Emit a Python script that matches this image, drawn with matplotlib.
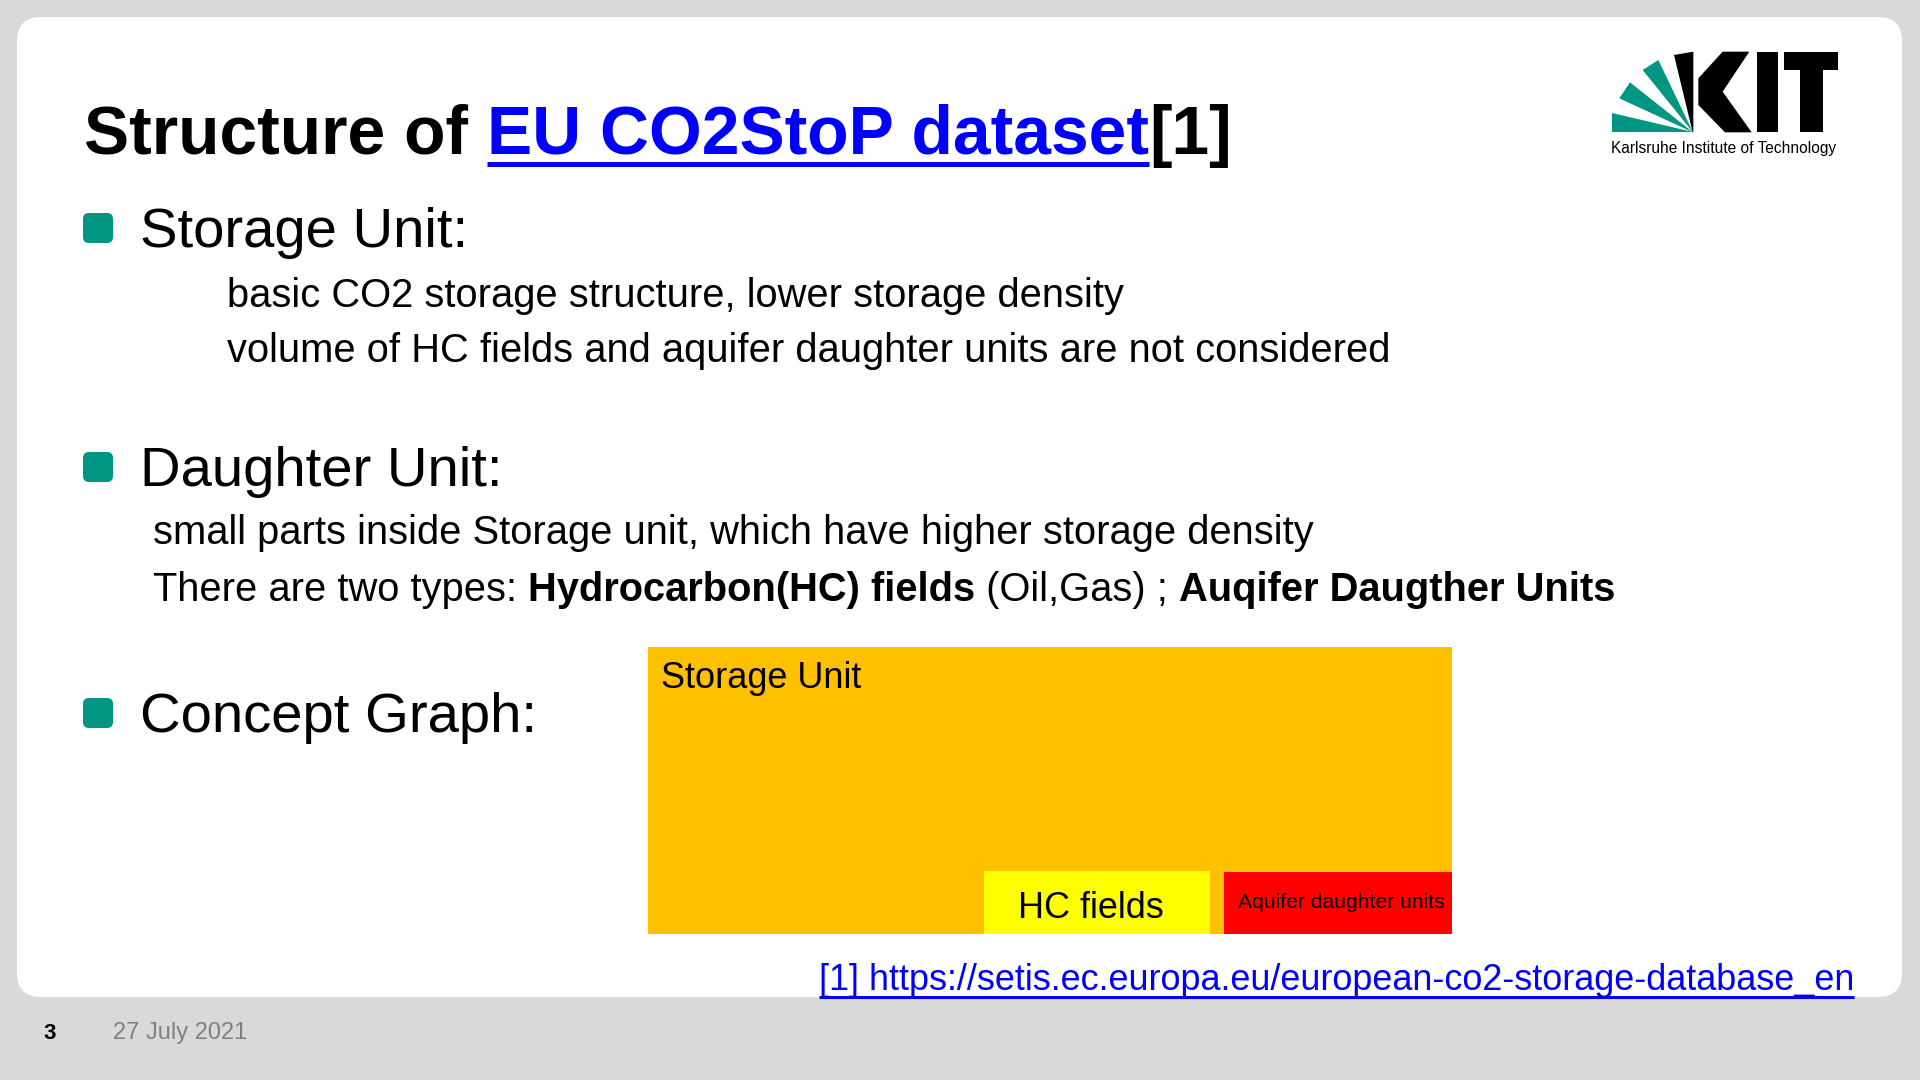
import matplotlib
matplotlib.use("Agg")
import matplotlib.pyplot as plt
from matplotlib.patches import FancyBboxPatch, Rectangle, Polygon

plt.rcParams['font.family'] = ['Liberation Sans', 'DejaVu Sans']

# slide texts
title_parts = [("Structure of ", "black", False), ("EU CO2StoP dataset", "#0000ff", True), ("[1]", "black", False)]
headings = ["Storage Unit:", "Daughter Unit:", "Concept Graph:"]
storage_lines = ["basic CO2 storage structure, lower storage density",
                 "volume of HC fields and aquifer daughter units are not considered"]
daughter_line1 = "small parts inside Storage unit, which have higher storage density"
daughter_line2 = [("There are two types: ", "normal"), ("Hydrocarbon(HC) fields", "bold"),
                  (" (Oil,Gas) ; ", "normal"), ("Auqifer Daugther Units", "bold")]
box_labels = ["Storage Unit", "HC fields", "Aquifer daughter units"]
box_colors = ["#ffc000", "#ffff00", "#ff0000"]
ref_text = "[1] https://setis.ec.europa.eu/european-co2-storage-database_en"
page_no = "3"
date_text = "27 July 2021"
logo_caption = "Karlsruhe Institute of Technology"

KIT_GREEN = "#009682"

fig = plt.figure(figsize=(19.2, 10.8), dpi=100)
fig.patch.set_facecolor("#d9d9d9")
ax = fig.add_axes([0, 0, 1, 1])
ax.set_xlim(0, 1920)
ax.set_ylim(1080, 0)
ax.axis("off")
r = fig.canvas.get_renderer()

# white slide panel
ax.add_patch(FancyBboxPatch((17, 17), 1885, 980, boxstyle="round,pad=0,rounding_size=24",
                            fc="white", ec="none"))


def text_run(x, y, parts, size):
    # place text pieces one after another on the same baseline
    for s, color, weight, under, uy, ulw in parts:
        t = ax.text(x, y, s, fontsize=size, color=color, fontweight=weight, va="baseline", ha="left")
        w = t.get_window_extent(renderer=r).width
        if under:
            ax.plot([x, x + w], [y + uy, y + uy], color=color, lw=ulw, solid_capstyle="butt")
        x += w
    return x


# title
text_run(84, 154, [(s, c, "bold", u, 10, 3.6) for s, c, u in title_parts], 48.8)

# bullets
def bullet(y_base, label):
    ax.add_patch(FancyBboxPatch((83, y_base - 34), 30, 30, boxstyle="round,pad=0,rounding_size=6",
                                fc=KIT_GREEN, ec="none"))
    ax.text(140, y_base, label, fontsize=40.5, va="baseline", ha="left", color="black")


bullet(247, headings[0])
bullet(486, headings[1])
bullet(732, headings[2])

sub = 28.7
ax.text(227, 307, storage_lines[0], fontsize=sub, va="baseline")
ax.text(227, 362, storage_lines[1], fontsize=sub, va="baseline")
ax.text(153, 544, daughter_line1, fontsize=sub, va="baseline")
text_run(153, 601, [(s, "black", w, False, 0, 0) for s, w in daughter_line2], sub)

# concept graph
ax.add_patch(Rectangle((648, 647), 804, 287, fc=box_colors[0], ec="none"))
ax.add_patch(Rectangle((984, 871), 226, 63, fc=box_colors[1], ec="none"))
ax.add_patch(Rectangle((1224, 872), 228, 62, fc=box_colors[2], ec="none"))
ax.text(661, 688, box_labels[0], fontsize=26, va="baseline")
ax.text(1091, 918, box_labels[1], fontsize=25.9, va="baseline", ha="center")
ax.text(1341, 908, box_labels[2], fontsize=15.2, va="baseline", ha="center")

# reference link
text_run(819, 990, [(ref_text, "#0000ff", "normal", True, 6.5, 2.2)], 25.9)

# footer
ax.text(43, 1039, page_no, fontsize=16, fontweight="bold", va="baseline")
ax.text(113, 1039, date_text, fontsize=17, color="#808080", va="baseline")

# KIT logo, drawn in zoomed logo pixel units
def lp(pts):
    return [(1600 + px / 3, 45 + py / 3) for px, py in pts]


apex = (279, 262)
for pts in [[(35, 205), (35, 262), apex], [(58, 160), (90, 112), apex], [(128, 75), (175, 45), apex]]:
    ax.add_patch(Polygon(lp(pts), closed=True, fc=KIT_GREEN, ec="none"))
ax.add_patch(Polygon(lp([(222, 30), (280, 20), (280, 262), (278, 262)]), closed=True, fc="black", ec="none"))
ax.add_patch(Polygon(lp([(368, 20), (448, 20), (368, 140), (455, 262), (375, 262), (295, 180), (295, 100)]),
                     closed=True, fc="black", ec="none"))
ax.add_patch(Polygon(lp([(470, 20), (535, 20), (535, 262), (470, 262)]), closed=True, fc="black", ec="none"))
ax.add_patch(Polygon(lp([(552, 20), (715, 20), (715, 75), (668, 75), (668, 262), (600, 262), (600, 75), (552, 75)]),
                     closed=True, fc="black", ec="none"))
ax.text(1611, 153, logo_caption, fontsize=11.2, va="baseline", ha="left", color="black")

fig.savefig("out.png", dpi=100, facecolor=fig.get_facecolor())
